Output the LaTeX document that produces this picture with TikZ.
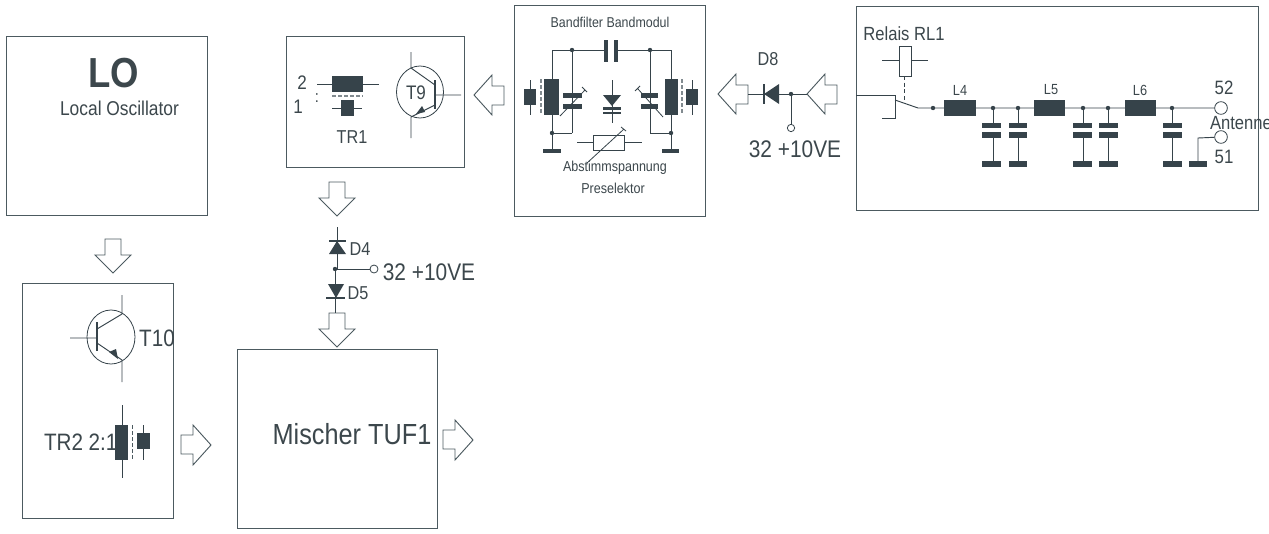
\documentclass[tikz,border=0pt]{standalone}
\usepackage{fontspec}
\setmainfont[FakeStretch=0.87]{Liberation Sans}
\definecolor{dk}{HTML}{36434A}
\definecolor{ln}{HTML}{4C5A60}
\definecolor{tx}{HTML}{3C474C}
\newcommand{\plate}[4]{\fill[dk] (#1,#2) rectangle (#3,#4);}
\newcommand{\jdot}[2]{\fill[dk] (#1,#2) circle (2.2);}
% leftward, downward, rightward block arrows: tip x/y given
\newcommand{\arrL}[2]{\draw[flow] (#1,#2) -- ++(18,-20) -- ++(0,11) -- ++(12,0) -- ++(0,19) -- ++(-12,0) -- ++(0,10) -- cycle;}
\newcommand{\arrD}[2]{\draw[flow] (#1,#2) -- ++(-18,-18) -- ++(10,0) -- ++(0,-16) -- ++(16,0) -- ++(0,16) -- ++(10,0) -- cycle;}
\newcommand{\arrR}[2]{\draw[flow] (#1,#2) -- ++(-18,-20) -- ++(0,10) -- ++(-12,0) -- ++(0,19) -- ++(12,0) -- ++(0,11) -- cycle;}
\newcommand{\capgnd}[3]{% x of wire, plate left, plate right
  \draw[wire] (#1,108) -- (#1,123) (#1,138) -- (#1,161);
  \jdot{#1}{108}
  \plate{#2}{123}{#3}{128}\plate{#2}{132}{#3}{138}\plate{#2}{161}{#3}{167}}
\tikzset{
  wire/.style={draw=dk,line width=0.7pt},
  flow/.style={draw=ln,line width=0.7pt,fill=white},
  block/.style={draw=ln,line width=0.75pt,fill=white,inner sep=0pt,outer sep=0pt,anchor=north west},
  label/.style={text=tx,inner sep=0pt,outer sep=0pt},
  fA/.style={label,font=\fontsize{10.7}{13}\selectfont},
  fB/.style={label,font=\fontsize{14}{16}\selectfont},
  fC/.style={label,font=\fontsize{18}{21}\selectfont},
}
\begin{document}
\begin{tikzpicture}[x=0.75pt,y=-0.75pt]
\useasboundingbox (0,0) rectangle (1269,533);
% ---- blocks
\node[block,minimum width=201*0.75pt,minimum height=179*0.75pt] (lo) at (6,36) {};
\node[block,minimum width=151*0.75pt,minimum height=235*0.75pt] (t10box) at (22,283) {};
\node[block,minimum width=200*0.75pt,minimum height=179*0.75pt] (mix) at (237,349) {};
\node[block,minimum width=178*0.75pt,minimum height=131*0.75pt] (t9box) at (286,36) {};
\node[block,minimum width=191*0.75pt,minimum height=211*0.75pt] (bf) at (514,5) {};
\node[block,minimum width=402*0.75pt,minimum height=204*0.75pt] (ant) at (856,6) {};
% ---- LO
\node[label,font=\bfseries\fontsize{31.5}{34}\selectfont] (lot) at (113.5,73) {LO};
\node[label,font=\fontsize{15}{17}\selectfont] (lot2) at (119.5,108) {Local Oscillator};
\node[label,font=\fontsize{21.8}{25}\selectfont] (mixt) at (352,434) {Mischer TUF1};
% ---- flow arrows
\arrD{113}{273}
\arrR{211}{445}
\arrR{473}{440}
\arrD{337}{216}
\arrD{337}{347}
\arrL{474}{95}
\arrL{718}{94}
\arrL{807}{94}
% ---- T10 / TR2
\draw[wire,line width=0.6pt] (111,337) ellipse (24 and 27);
\draw[wire] (70,338) -- (97,338) (97,329) -- (122,314) -- (122,295) (97,343) -- (122,360) -- (122,382);
\draw[dk,line width=2pt] (97,322) -- (97,351);
\fill[dk] (118,359) -- (109,352) -- (116,349) -- cycle;
\node[label,font=\fontsize{17.8}{20}\selectfont] (t10) at (157,338) {T10};
\draw[wire] (122,405) -- (122,478) (143,425) -- (143,460);
\plate{115}{425}{128}{460}
\plate{137}{433}{150}{449}
\draw[ln,line width=0.6pt,dash pattern=on 3pt off 1.5pt] (132,425) -- (132,460);
\node[label,anchor=west,font=\fontsize{17.8}{20}\selectfont] (tr2) at (44,442) {TR2 2:1};
% ---- TR1 / T9
\node[fB,font=\fontsize{14.7}{17}\selectfont] (n2) at (302,83) {2};
\node[fB,font=\fontsize{14.7}{17}\selectfont] (n1) at (298,107) {1};
\node[fA,font=\fontsize{12.6}{15}\selectfont] (colon) at (317,98) {:};
\draw[wire] (317,84) -- (379,84) (332,108) -- (362,108);
\plate{332}{76}{363}{92}
\plate{341}{100}{354}{116}
\draw[ln!70,line width=1pt,dash pattern=on 3pt off 1.5pt] (332,96) -- (363,96);
\node[fB] (tr1) at (352,137) {TR1};
\draw[wire,line width=0.6pt] (420,92) ellipse (23.5 and 26);
\draw[wire] (461,95) -- (435,95) (435,85) -- (411,68) -- (411,52) (435,105) -- (411,117) -- (411,138);
\draw[dk,line width=2pt] (435,80) -- (435,109);
\fill[dk] (416,114) -- (422,106) -- (425,112) -- cycle;
\node[label,font=\fontsize{14.7}{17}\selectfont] (t9) at (416,93) {T9};
% ---- D4 / D5
\draw[wire] (337,227) -- (337,269) -- (335,269) -- (335,313);
\jdot{335}{269}
\fill[dk] (337,241) -- (346,254) -- (329,254) -- cycle;
\draw[dk,line width=1.2pt] (329,241) -- (346,241);
\fill[dk] (336,298) -- (328,284) -- (344,284) -- cycle;
\draw[dk,line width=1.2pt] (326,298) -- (345,298);
\node[fB] (d4) at (360,249) {D4};
\node[fB] (d5) at (358,293) {D5};
\node[draw=dk,line width=0.6pt,circle,minimum size=6pt,inner sep=0pt] (p32a) at (374,269) {};
\draw[wire] (335,269) -- (p32a);
\node[fC] (v32a) at (429,272) {32 +10VE};
% ---- Band filter
\node[fA] (bft) at (610,22) {Bandfilter Bandmodul};
\draw[wire] (552,79) -- (552,50) -- (604,50) (618,50) -- (671,50) -- (671,79)
  (572,50) -- (572,133) (650,50) -- (650,133)
  (552,115) -- (552,149) (552,133) -- (572,133)
  (671,115) -- (671,149) (650,133) -- (671,133);
\plate{604}{40}{608}{62}\plate{614}{40}{618}{62}
\jdot{572}{50}\jdot{650}{50}\jdot{552}{133}\jdot{671}{133}
\plate{544}{79}{559}{115}
\plate{665}{79}{678}{115}
\draw[ln!70,line width=0.8pt,dash pattern=on 3pt off 1.5pt] (541,79) -- (541,115) (682,79) -- (682,115);
\draw[wire] (530,80) -- (530,115) (692,80) -- (692,115);
\plate{524}{89}{536}{105}
\plate{686}{89}{698}{105}
\plate{563}{93}{582}{98}\plate{563}{104}{582}{109}
\plate{641}{93}{658}{98}\plate{641}{104}{658}{109}
\draw[wire,line width=0.6pt] (560,116) -- (585,90) (582,87) -- (587,92) (663,117) -- (638,89) (635,91) -- (640,86);
\plate{543}{149}{561}{153}
\plate{662}{149}{679}{153}
\draw[wire] (612,80) -- (612,123);
\fill[dk] (612,106) -- (603,95) -- (621,95) -- cycle;
\plate{603}{107}{621}{110}
\plate{603}{112}{621}{114}
\draw[wire] (577,142) -- (593,142) (624,142) -- (642,142);
\draw[wire] (593,135) rectangle (624,150);
\draw[wire,line width=0.6pt] (587,163) -- (624,129) (621,127) -- (626,131);
\node[fA,font=\fontsize{10.8}{13}\selectfont] (abst) at (615,168) {Abstimmspannung};
\node[fA,font=\fontsize{10.8}{13}\selectfont] (pres) at (613,188) {Preselektor};
% ---- D8
\node[fB] (d8) at (768,59) {D8};
\draw[wire] (748,94) -- (807,94) (791,94) -- (791,124);
\jdot{791}{94}
\fill[dk] (764,94) -- (779,84) -- (779,104) -- cycle;
\draw[dk,line width=1.2pt] (764,84) -- (764,104);
\node[draw=dk,line width=0.6pt,circle,minimum size=5.5pt,inner sep=0pt] (p32b) at (791,128) {};
\node[fC] (v32b) at (795,149) {32 +10VE};
% ---- Antenna filter
\node[fB,font=\fontsize{14.3}{17}\selectfont] (rel) at (904,34) {Relais RL1};
\draw[wire] (882,60) -- (899,60) (911,60) -- (928,60);
\draw[wire] (899,46) rectangle (911,76);
\draw[wire,dash pattern=on 3pt off 2pt] (904,76) -- (904,102);
\draw[wire] (856,95) -- (895,95) -- (895,118) -- (882,118);
\draw[wire] (895,100) -- (918,108) -- (1215,108);
\jdot{933}{108}
\plate{944}{100}{976}{116}
\plate{1034}{100}{1065}{116}
\plate{1125}{100}{1156}{116}
\node[fA,font=\fontsize{11}{13}\selectfont] (l4) at (960,90) {L4};
\node[fA,font=\fontsize{11}{13}\selectfont] (l5) at (1051,90) {L5};
\node[fA,font=\fontsize{11}{13}\selectfont] (l6) at (1140,90) {L6};
\capgnd{993}{982}{1001}
\capgnd{1018}{1009}{1027}
\capgnd{1083}{1073}{1092}
\capgnd{1108}{1099}{1118}
\capgnd{1172}{1163}{1182}
\plate{1189}{161}{1207}{167}
\node[draw=dk,line width=0.6pt,fill=white,circle,minimum size=9.5pt,inner sep=0pt] (p52) at (1221,108) {};
\node[draw=dk,line width=0.6pt,fill=white,circle,minimum size=9.5pt,inner sep=0pt] (p51) at (1221,137) {};
\draw[wire] (1198,161) -- (1198,138) -- (p51);
\node[fB,font=\fontsize{14.5}{17}\selectfont] (t52) at (1224,88) {52};
\node[fB,font=\fontsize{14.5}{17}\selectfont] (t51) at (1224,157) {51};
\node[fB,anchor=west,font=\fontsize{14.3}{17}\selectfont] (ante) at (1210,123) {Antenne};
\end{tikzpicture}
\end{document}
